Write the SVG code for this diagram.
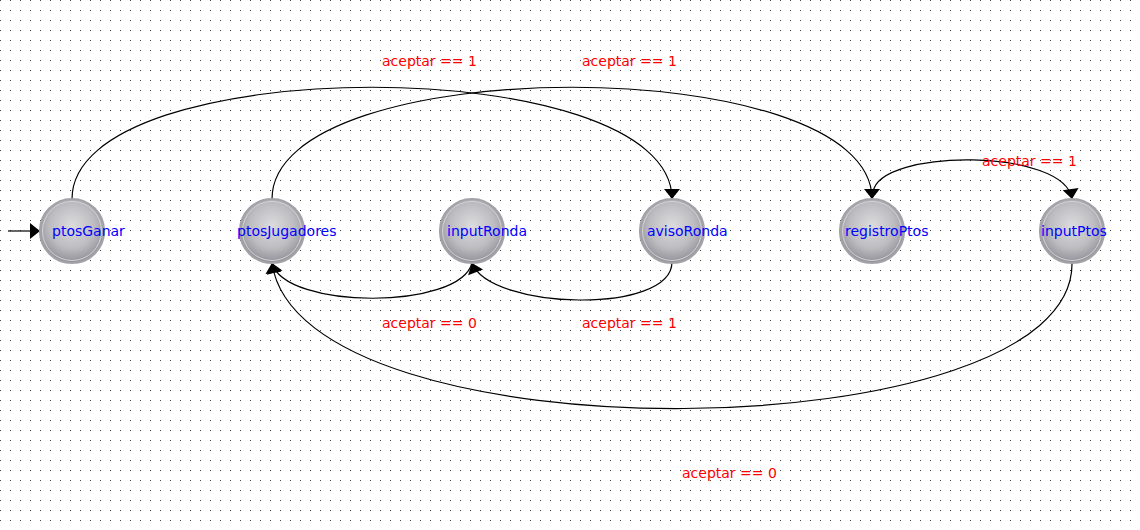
<svg xmlns="http://www.w3.org/2000/svg" width="1140" height="530" viewBox="0 0 1140 530">
<style>
.state{fill:url(#ball);stroke:#a2a2a8;stroke-width:2.2}
.rim{fill:none;stroke:#d2d2d6;stroke-width:1}
.name{font-family:"DejaVu Sans",Verdana,sans-serif;font-size:14px;fill:#0000ff}
.edge{fill:none;stroke:#000;stroke-width:1.2;marker-end:url(#arrow)}
.cond{font-family:"DejaVu Sans",Verdana,sans-serif;font-size:14px;fill:#ff0000}
</style>
<defs>
<pattern id="grid" x="0" y="0" width="10" height="10" patternUnits="userSpaceOnUse">
<rect x="0" y="0" width="1" height="1" fill="#444"/>
</pattern>
<radialGradient id="ball" cx="50%" cy="42%" r="58%">
<stop offset="0%" stop-color="#dcdcde"/>
<stop offset="60%" stop-color="#bdbdc1"/>
<stop offset="100%" stop-color="#8e8e96"/>
</radialGradient>
<marker id="arrow" markerUnits="userSpaceOnUse" markerWidth="12" markerHeight="18" refX="10" refY="8" orient="auto" overflow="visible">
<path d="M0,0 L10,8 L0,16 Z" fill="#000"/>
</marker>
</defs>
<rect width="1140" height="530" fill="#fff"/>
<rect width="1140" height="530" fill="url(#grid)"/>
<g id="connectors">
<g id="e-init"><path class="edge" d="M8,231 L40,231"/></g>
<g id="e-ptosGanar-avisoRonda">
<path class="edge" d="M72,199 C72,50 672,50 672,199"/>
<text class="cond" x="382" y="66">aceptar == 1</text>
</g>
<g id="e-ptosJugadores-registroPtos">
<path class="edge" d="M272,199 C272,50 872,50 872,199"/>
<text class="cond" x="582" y="66">aceptar == 1</text>
</g>
<g id="e-registroPtos-inputPtos">
<path class="edge" d="M873,192 C880,148 1065,148 1072,199"/>
<text class="cond" x="982" y="166">aceptar == 1</text>
</g>
<g id="e-inputRonda-ptosJugadores">
<path class="edge" d="M472,263 C460,310 285,310 272,263"/>
<text class="cond" x="382" y="328">aceptar == 0</text>
</g>
<g id="e-avisoRonda-inputRonda">
<path class="edge" d="M672,262 C672,315 490,310 472,263"/>
<text class="cond" x="582" y="328">aceptar == 1</text>
</g>
<g id="e-inputPtos-ptosJugadores">
<path class="edge" d="M1072,263 C1075,452 300,462 272,263"/>
<text class="cond" x="682" y="478">aceptar == 0</text>
</g>
</g>
<g id="ptosGanar"><circle class="state" cx="72" cy="231" r="32"/><circle class="rim" cx="72" cy="231" r="29.5"/><text class="name" x="52" y="236">ptosGanar</text></g>
<g id="ptosJugadores"><circle class="state" cx="272" cy="231" r="32"/><circle class="rim" cx="272" cy="231" r="29.5"/><text class="name" x="237" y="236">ptosJugadores</text></g>
<g id="inputRonda"><circle class="state" cx="472" cy="231" r="32"/><circle class="rim" cx="472" cy="231" r="29.5"/><text class="name" x="447" y="236">inputRonda</text></g>
<g id="avisoRonda"><circle class="state" cx="672" cy="231" r="32"/><circle class="rim" cx="672" cy="231" r="29.5"/><text class="name" x="647" y="236">avisoRonda</text></g>
<g id="registroPtos"><circle class="state" cx="872" cy="231" r="32"/><circle class="rim" cx="872" cy="231" r="29.5"/><text class="name" x="845" y="236">registroPtos</text></g>
<g id="inputPtos"><circle class="state" cx="1072" cy="231" r="32"/><circle class="rim" cx="1072" cy="231" r="29.5"/><text class="name" x="1041" y="236">inputPtos</text></g>
</svg>
